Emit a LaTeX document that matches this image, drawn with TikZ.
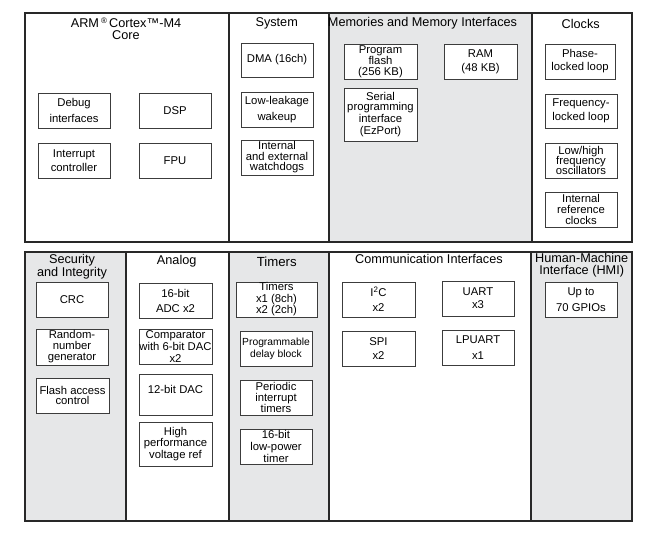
\documentclass[tikz,border=0pt]{standalone}
\usepackage{fontspec}
\setmainfont{Liberation Sans}
\definecolor{sgray}{RGB}{230,231,232}
\definecolor{lcol}{RGB}{40,40,40}
\definecolor{bcol}{RGB}{60,60,60}
\newcommand\ibx[7][]{\node[ibox,#1,minimum width={#5-#3},minimum height={#6-#4}] (#2) at ({(#3+#5)/2},{(#4+#6)/2}) {#7};}
\newcommand\sbx[6][white]{\node[sect,fill=#1,minimum width={#5-#3},minimum height={#6-#4},anchor=north west] (#2) at (#3,#4) {};}
\tikzset{
  ibox/.style={draw=bcol, line width=0.9pt, fill=white, inner sep=0pt, align=center,
    font=\fontsize{11.3}{12}\selectfont},
  sect/.style={draw=lcol, line width=1.6pt, inner sep=0pt},
  ttl/.style={align=center, inner sep=0pt, font=\fontsize{12.7}{11.7}\selectfont}
}
\begin{document}
\begin{tikzpicture}[x=1pt,y=-1pt]
\useasboundingbox (0,0) rectangle (658,536);
% top row sections
\sbx{core}{24}{12}{228}{241}
\sbx{sys}{228}{12}{328}{241}
\sbx[sgray]{mem}{328}{12}{531}{241}
\sbx{clk}{531}{12}{631}{241}
% bottom row sections
\sbx[sgray]{sec}{24}{251}{125}{520}
\sbx{ana}{125}{251}{228}{520}
\sbx[sgray]{tim}{228}{251}{328}{520}
\sbx{com}{328}{251}{530}{520}
\sbx[sgray]{hmi}{530}{251}{631}{520}
% titles
\node[ttl] (t-core) at (126,29) {ARM\,\raisebox{0.32em}{\fontsize{8}{8}\selectfont ®}\,Cortex™-M4\\Core};
\node[ttl] (t-sys) at (276.7,23.5) {System};
\node[ttl] (t-mem) at (422.5,23.5) {Memories and Memory Interfaces};
\node[ttl] (t-clk) at (580.7,24) {Clocks};
\node[ttl] (t-sec) at (72,266.5) {Security\\and Integrity};
\node[ttl] (t-ana) at (176.7,261) {Analog};
\node[ttl,font=\fontsize{13.2}{12}\selectfont] (t-tim) at (276.7,261.5) {Timers};
\node[ttl] (t-com) at (429,259) {Communication Interfaces};
\node[ttl] (t-hmi) at (581.7,265.5) {Human-Machine\\Interface (HMI)};
% core
\ibx{debug}{38}{93}{110}{128}{Debug\\[4pt]interfaces}
\ibx{dsp}{139}{93}{211}{128}{DSP}
\ibx{intc}{38}{143}{110}{178}{Interrupt\\[2pt]controller}
\ibx{fpu}{139}{143}{211}{178}{FPU}
% system
\ibx{dma}{241}{43}{313}{77}{DMA (16ch)}
\ibx{llw}{241}{92}{313}{127}{Low-leakage\\[4pt]wakeup}
\ibx{wdog}{241}{140}{313}{175}{Internal\\[-1.5pt]and external\\[-1.5pt]watchdogs}
% memories
\ibx{pflash}{344}{44}{417}{79}{Program\\[-1pt]flash\\[-1pt](256 KB)}
\ibx{ram}{444}{44}{517}{79}{RAM\\[2pt](48 KB)}
\ibx{ezport}{344}{88}{417}{141}{Serial\\[-1.5pt]programming\\[-0.5pt]interface\\[0.5pt](EzPort)}
% clocks
\ibx{pll}{545}{44}{615}{79}{Phase-\\[1pt]locked loop}
\ibx{fll}{545}{94}{617}{128}{Frequency-\\[2pt]locked loop}
\ibx{osc}{545}{143}{617}{178}{Low/high\\[-2pt]frequency\\[-2pt]oscillators}
\ibx{irc}{545}{192}{617}{227}{Internal\\[-1pt]reference\\[-1pt]clocks}
% security
\ibx{crc}{36}{282}{108}{317}{CRC}
\ibx{rng}{36}{329}{108}{365}{Random-\\[-1pt]number\\[-1pt]generator}
\ibx{fac}{36}{378}{109}{413}{Flash access\\[-1.5pt]control}
% analog
\ibx{adc}{139}{283}{212}{318}{16-bit\\[3pt]ADC x2}
\ibx{cmp}{139}{329}{212}{364}{Comparator\\with 6-bit DAC\\x2}
\ibx[text depth=11pt]{dac}{139}{374}{212}{415}{12-bit DAC}
\ibx{vref}{139}{422}{212}{466}{High\\[-0.5pt]performance\\[-0.5pt]voltage ref}
% timers
\ibx{tmr}{236}{282}{317}{317}{Timers\\[-0.5pt]x1 (8ch)\\[-0.5pt]x2 (2ch)}
\ibx[font=\fontsize{10.3}{12.3}\selectfont]{pdb}{240}{331}{312}{366}{Programmable\\delay block}
\ibx{pit}{240}{380}{312}{415}{Periodic\\[-1pt]interrupt\\[-1pt]timers}
\ibx{lpt}{240}{429}{312}{464}{16-bit\\low-power\\timer}
% communication
\ibx{i2c}{342}{282}{415}{317}{I\textsuperscript{2}C\\[3pt]x2}
\ibx{uart}{442}{281}{514}{316}{UART\\[1pt]x3}
\ibx{spi}{342}{331}{415}{366}{SPI\\[2pt]x2}
\ibx{lpuart}{442}{330}{514}{365}{LPUART\\[4pt]x1}
% HMI
\ibx{gpio}{545}{282}{617}{317}{Up to\\[4pt]70 GPIOs}
\end{tikzpicture}
\end{document}
